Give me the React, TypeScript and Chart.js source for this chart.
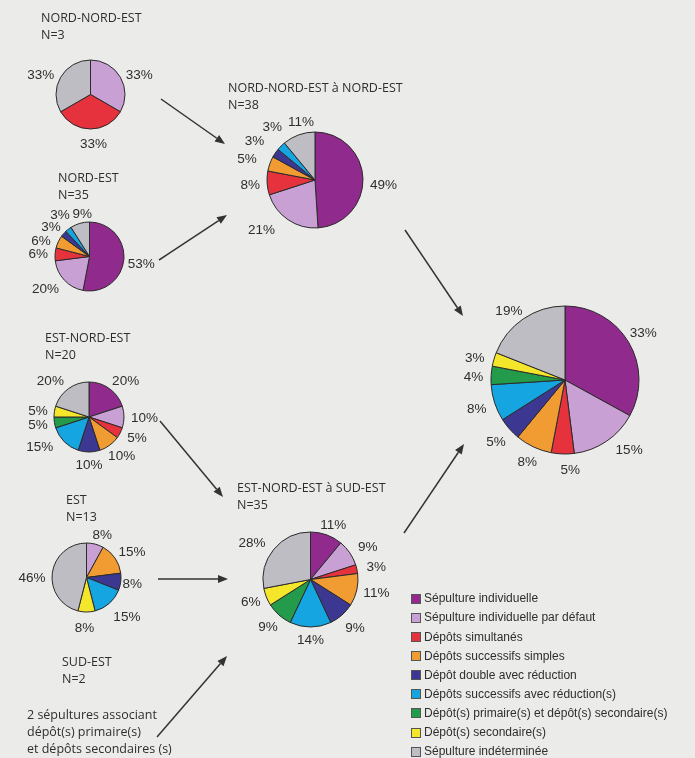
import React, { useEffect, useRef } from "react";
import { Chart, registerables } from "chart.js";

Chart.register(...registerables);

// ---------- DATA ----------
const categories = [
  "Sépulture individuelle",
  "Sépulture individuelle par défaut",
  "Dépôts simultanés",
  "Dépôts successifs simples",
  "Dépôt double avec réduction",
  "Dépôts successifs avec réduction(s)",
  "Dépôt(s) primaire(s) et dépôt(s) secondaire(s)",
  "Dépôt(s) secondaire(s)",
  "Sépulture indéterminée",
];

// percentages per category (order as categories)
const nordNordEst = [0, 33, 33, 0, 0, 0, 0, 0, 33];
const nordEst = [53, 20, 6, 6, 3, 3, 0, 0, 9];
const estNordEst = [20, 10, 5, 10, 10, 15, 5, 5, 20];
const est = [0, 8, 0, 15, 8, 15, 0, 8, 46];
const nneToNe = [49, 21, 8, 5, 3, 3, 0, 0, 11];
const eneToSe = [11, 9, 3, 11, 9, 14, 9, 6, 28];
const total = [33, 15, 5, 8, 5, 8, 4, 3, 19];

// ---------- STYLE / LAYOUT ----------
const COLORS = [
  "#902a8c",
  "#c9a0d3",
  "#e6323d",
  "#f09c33",
  "#3c3791",
  "#15a5e1",
  "#249b4b",
  "#f4e62a",
  "#bdbdc3",
];
const BG = "#ebebe9";
const INK = "#2e2e2e";
const LABEL_FONT = "13.5px 'Liberation Sans', Arial, sans-serif";
const TITLE_FONT = "'Open Sans', 'Liberation Sans', sans-serif";

type Nudge = [number, number];
interface PieSpec {
  values: number[];
  cx: number;
  cy: number;
  r: number;
  nudges?: Record<number, Nudge>;
}

const pies: PieSpec[] = [
  { values: nordNordEst, cx: 90.5, cy: 94.5, r: 34.5, nudges: { 2: [3, 2], 8: [-2, 3], 1: [1, 3] } },
  { values: nordEst, cx: 89.5, cy: 256, r: 34.5, nudges: { 0: [-3, 2], 1: [-4, 0], 3: [-2, 3], 5: [2, -6], 8: [7, 1] } },
  { values: estNordEst, cx: 89, cy: 417, r: 35, nudges: { 0: [4, 1], 5: [-10, -4], 8: [-6, 1], 2: [2, -1] } },
  { values: est, cx: 86.5, cy: 577.5, r: 34.5, nudges: { 1: [3, 2], 4: [-5, 0], 5: [4, 4], 7: [-2, 3], 8: [0, 5] } },
  { values: nneToNe, cx: 314.5, cy: 179.5, r: 48, nudges: { 0: [0, 6], 1: [-15, 0], 3: [-7, -2], 4: [-7, -6], 5: [3, -12], 8: [9, -3] } },
  { values: eneToSe, cx: 310.5, cy: 579.5, r: 47.5, nudges: { 1: [4, 0], 2: [3, 0], 4: [2, 3], 8: [-6, 0], 6: [0, 2] } },
  { values: total, cx: 565, cy: 380, r: 74, nudges: { 0: [-3, -4], 1: [11, -2], 2: [8, 3], 3: [1, 3], 4: [-1, 4], 5: [-2, 2], 6: [-1, 2], 7: [-3, 1], 8: [-3, 1] } },
];

interface TitleSpec {
  x: number;
  y: number; // center of first line
  lines: string[];
}
const titles: TitleSpec[] = [
  { x: 41, y: 18, lines: ["NORD-NORD-EST", "N=3"] },
  { x: 58, y: 178, lines: ["NORD-EST", "N=35"] },
  { x: 45, y: 338, lines: ["EST-NORD-EST", "N=20"] },
  { x: 66, y: 500, lines: ["EST", "N=13"] },
  { x: 62, y: 662, lines: ["SUD-EST", "N=2"] },
  { x: 27, y: 715, lines: ["2 sépultures associant", "dépôt(s) primaire(s)", "et dépôts secondaires (s)"] },
  { x: 228, y: 88, lines: ["NORD-NORD-EST à NORD-EST", "N=38"] },
  { x: 237, y: 488, lines: ["EST-NORD-EST à SUD-EST", "N=35"] },
];

const arrows: [number, number, number, number][] = [
  [161, 99, 225, 144],
  [159, 260, 227, 215],
  [405, 230, 463, 316],
  [160, 421, 223, 497],
  [158, 579, 228, 579],
  [157, 737, 227, 656],
  [404, 533, 464, 444],
];

const LEGEND_X = 411;
const LEGEND_Y0 = 598.3;
const LEGEND_DY = 19.1;

// ---------- COMPONENTS ----------
function Pie({ spec }: { spec: PieSpec }) {
  const ref = useRef<HTMLCanvasElement>(null);
  const size = Math.ceil(spec.r * 2 + 110);
  useEffect(() => {
    if (!ref.current) return;
    const labelPlugin = {
      id: "pctLabels",
      afterDatasetsDraw(chart: any) {
        const ctx = chart.ctx as CanvasRenderingContext2D;
        const meta = chart.getDatasetMeta(0);
        ctx.save();
        ctx.font = LABEL_FONT;
        ctx.fillStyle = INK;
        ctx.textAlign = "center";
        ctx.textBaseline = "alphabetic";
        const capH = 9.7;
        meta.data.forEach((arc: any, i: number) => {
          const v = spec.values[i];
          if (!v) return;
          const p = arc.getProps(["startAngle", "endAngle", "outerRadius", "x", "y"], true);
          const mid = (p.startAngle + p.endAngle) / 2;
          const ux = Math.cos(mid);
          const uy = Math.sin(mid);
          const text = v + "%";
          const w = ctx.measureText(text).width;
          const d = p.outerRadius + 7;
          let lx = p.x + ux * d + (ux * w) / 2;
          let ly = p.y + uy * d + (uy * capH) / 2;
          const n = spec.nudges && spec.nudges[i];
          if (n) {
            lx += n[0];
            ly += n[1];
          }
          ctx.fillText(text, lx, ly + capH / 2);
        });
        ctx.restore();
      },
    };
    const chart = new Chart(ref.current, {
      type: "pie",
      data: {
        labels: categories,
        datasets: [
          {
            data: spec.values,
            backgroundColor: COLORS,
            borderColor: "#2a2a2a",
            borderWidth: 1,
          },
        ],
      },
      options: {
        responsive: false,
        animation: false,
        events: [],
        radius: spec.r,
        layout: { padding: 0 },
        plugins: { legend: { display: false }, tooltip: { enabled: false } },
      } as any,
      plugins: [labelPlugin],
    });
    return () => chart.destroy();
  }, [spec]);
  return (
    <canvas
      ref={ref}
      width={size}
      height={size}
      style={{
        position: "absolute",
        left: spec.cx - size / 2,
        top: spec.cy - size / 2,
        width: size,
        height: size,
      }}
    />
  );
}

function Arrow({ a }: { a: [number, number, number, number] }) {
  const [x1, y1, x2, y2] = a;
  const dx = x2 - x1;
  const dy = y2 - y1;
  const len = Math.hypot(dx, dy);
  const ux = dx / len;
  const uy = dy / len;
  const hl = 10;
  const hw = 4;
  const bx = x2 - ux * hl;
  const by = y2 - uy * hl;
  const pts = `${x2},${y2} ${bx - uy * hw},${by + ux * hw} ${bx + uy * hw},${by - ux * hw}`;
  return (
    <g>
      <line x1={x1} y1={y1} x2={bx} y2={by} stroke="#333" strokeWidth={1.5} />
      <polygon points={pts} fill="#333" />
    </g>
  );
}

export default function App() {
  return (
    <div
      style={{
        position: "absolute",
        left: 0,
        top: 0,
        width: 695,
        height: 758,
        background: BG,
        overflow: "hidden",
      }}
    >
      <svg width={695} height={758} style={{ position: "absolute", left: 0, top: 0 }}>
        {arrows.map((a, i) => (
          <Arrow key={i} a={a} />
        ))}
      </svg>
      {pies.map((p, i) => (
        <Pie key={i} spec={p} />
      ))}
      {titles.map((t, i) =>
        t.lines.map((line, j) => (
          <div
            key={i + "-" + j}
            style={{
              position: "absolute",
              left: t.x,
              top: t.y - 8 + j * 16.8,
              lineHeight: "16px",
              fontFamily: TITLE_FONT,
              fontSize: 12.5,
              color: INK,
              whiteSpace: "nowrap",
            }}
          >
            {line}
          </div>
        ))
      )}
      {categories.map((c, i) => (
        <div key={c}>
          <div
            style={{
              position: "absolute",
              left: LEGEND_X,
              top: LEGEND_Y0 + i * LEGEND_DY - 4.5,
              width: 8,
              height: 8,
              background: COLORS[i],
              border: "0.5px solid #555",
            }}
          />
          <div
            style={{
              position: "absolute",
              left: LEGEND_X + 13,
              top: LEGEND_Y0 + i * LEGEND_DY - 8,
              lineHeight: "16px",
              fontFamily: "'Liberation Sans', Arial, sans-serif",
              fontSize: 12,
              color: INK,
              whiteSpace: "nowrap",
            }}
          >
            {c}
          </div>
        </div>
      ))}
    </div>
  );
}
